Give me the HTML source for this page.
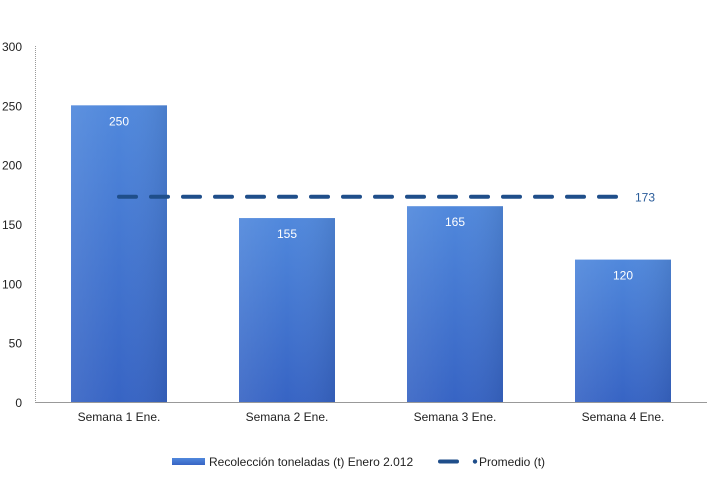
<!DOCTYPE html>
<html><head><meta charset="utf-8"><style>
body{margin:0;background:#fff;width:714px;height:483px;overflow:hidden}
text{font-family:"Liberation Sans",sans-serif}
</style></head><body>
<svg id="chart" width="714" height="483" xmlns="http://www.w3.org/2000/svg">
<defs>
<linearGradient id="bg" x1="0" y1="0" x2="0" y2="1">
<stop offset="0" stop-color="#5088dc"/><stop offset="1" stop-color="#3764c4"/>
</linearGradient>
<linearGradient id="bgh" x1="0" y1="0" x2="1" y2="0">
<stop offset="0" stop-color="#fff" stop-opacity="0.08"/><stop offset="0.5" stop-color="#fff" stop-opacity="0"/><stop offset="1" stop-color="#000" stop-opacity="0.08"/>
</linearGradient>
</defs>
<g id="plot"></g>
<g>
<rect x="172" y="458" width="33" height="7" fill="url(#bg)"/>
<text x="209" y="466" font-size="12" fill="#222">Recolección toneladas (t) Enero 2.012</text>
<line x1="440" y1="461.5" x2="457" y2="461.5" stroke="#1f4e8a" stroke-width="4" stroke-linecap="round"/>
<circle cx="475" cy="461.5" r="2.2" fill="#1f4e8a"/>
<text x="479" y="466" font-size="12" fill="#222">Promedio (t)</text>
</g>
</svg>
<script>
const categories=["Semana 1 Ene.","Semana 2 Ene.","Semana 3 Ene.","Semana 4 Ene."];
const values=[250,155,165,120];
const average=173;
const yTicks=[0,50,100,150,200,250,300];
const NS="http://www.w3.org/2000/svg";
const x0=35,x1=707,y0=402,y1=46,yMax=300;
const y=v=>y0-(y0-y1)*v/yMax;
const band=(x1-x0)/categories.length;
const xc=i=>x0+band*(i+0.5);
const g=document.getElementById('plot');
function mk(t,a,txt){const e=document.createElementNS(NS,t);for(const k in a)e.setAttribute(k,a[k]);if(txt!==undefined)e.textContent=txt;g.appendChild(e);return e;}
yTicks.forEach(v=>{
const t=mk('text',{x:22,y:y(v)+5,'font-size':12,fill:'#222','text-anchor':'end'},v);


});
const ax=mk('line',{x1:x0+0.5,y1:y1,x2:x0+0.5,y2:y0,stroke:'#999','stroke-dasharray':'1 1'});


const bw=96;
values.forEach((v,i)=>{
const r=mk('rect',{x:xc(i)-bw/2,y:y(v),width:bw,height:y0-y(v),fill:'url(#bg)'});


const s=mk('rect',{x:xc(i)-bw/2,y:y(v),width:bw,height:y0-y(v),fill:'url(#bgh)'});


const l=mk('text',{x:xc(i),y:y(v)+20,'font-size':12,fill:'#fff','text-anchor':'middle'},v);


const c=mk('text',{x:xc(i),y:y0+19,'font-size':12,fill:'#222','text-anchor':'middle'},categories[i]);


});
const bl=mk('line',{x1:x0,y1:y0+0.5,x2:x1,y2:y0+0.5,stroke:'#999'});


const av=mk('line',{x1:xc(0),y1:y(average),x2:xc(categories.length-1),y2:y(average),stroke:'#1f4e8a','stroke-width':4,'stroke-dasharray':'17 15','stroke-linecap':'round'});


const at=mk('text',{x:xc(categories.length-1)+12,y:y(average)+5,'font-size':12,fill:'#2a5c9a'},average);


</script>
</body></html>
